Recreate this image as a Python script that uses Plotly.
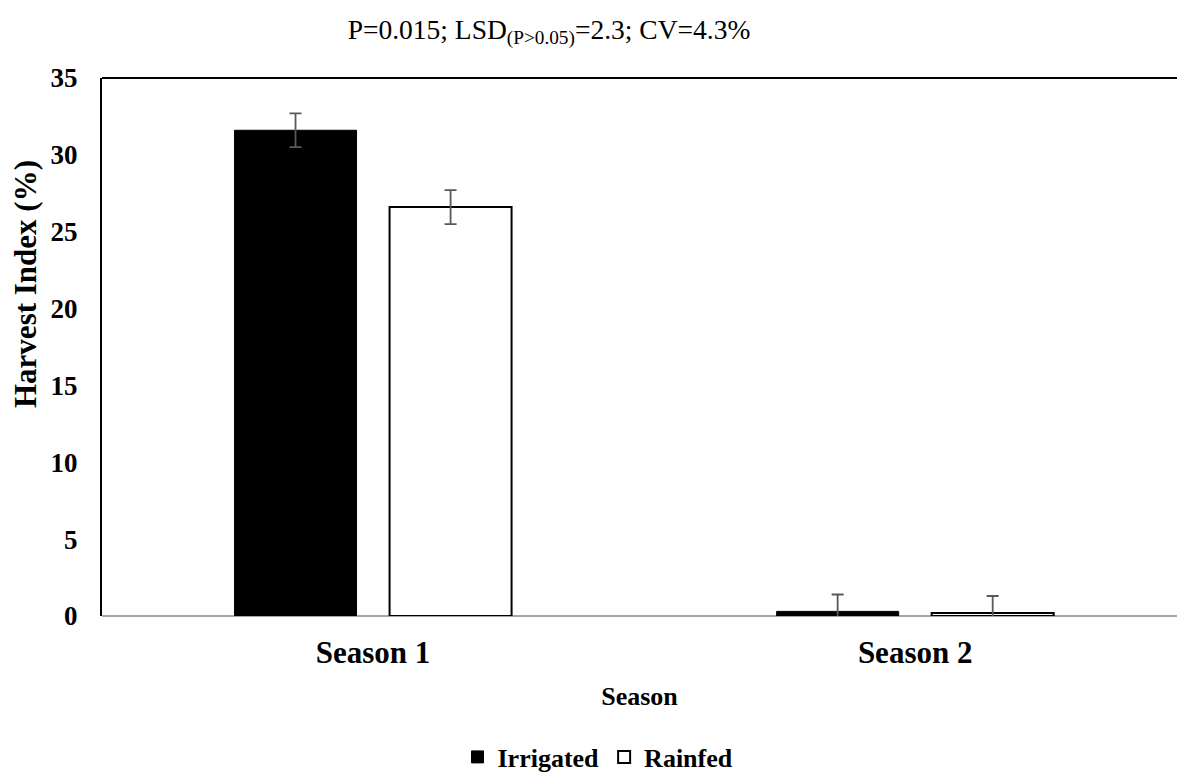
import plotly.graph_objects as go

# Harvest index by season and water regime
seasons = ["Season 1", "Season 2"]
irrigated = [31.6, 0.3]
rainfed = [26.6, 0.2]
irrigated_err = [1.1, 1.1]
rainfed_err = [1.1, 1.1]
y_ticks = [0, 5, 10, 15, 20, 25, 30, 35]

FONT = "Times New Roman, Liberation Serif, serif"
W, H = 1177, 781
L, T, B = 102, 78, 165
ERR = dict(type="data", visible=True, color="#595959", thickness=1.8, width=6)

fig = go.Figure()
fig.add_trace(go.Bar(
    name="Irrigated", x=seasons, y=irrigated,
    marker=dict(color="black", line=dict(color="black", width=1)),
    error_y=dict(array=irrigated_err, **ERR),
))
fig.add_trace(go.Bar(
    name="Rainfed", x=seasons, y=rainfed,
    marker=dict(color="white", line=dict(color="black", width=2)),
    error_y=dict(array=rainfed_err, **ERR),
))

fig.update_layout(
    width=W, height=H,
    margin=dict(l=L, r=0, t=T, b=B, autoexpand=False),
    paper_bgcolor="white", plot_bgcolor="white",
    barmode="group", bargap=0.428, bargroupgap=0.213,
    font=dict(family=FONT, color="black"),
    showlegend=True,
    legend=dict(
        orientation="h", xref="container", yref="container",
        x=598 / W, xanchor="center", y=1 - 757 / H, yanchor="middle",
        font=dict(size=26, family=FONT, weight="bold"),
        itemwidth=30, traceorder="normal",
    ),
    title=dict(
        text="P=0.015; LSD<sub>(P>0.05)</sub>=2.3; CV=4.3%",
        xref="container", yref="container",
        x=549 / W, xanchor="center", y=1 - 29 / H, yanchor="middle",
        font=dict(size=27.5, family=FONT),
    ),
)

fig.update_xaxes(
    type="category", range=[-0.5, 1.483],
    showline=False, showgrid=False, ticks="",
    tickfont=dict(size=31, family=FONT, weight="bold"),
    ticklabelstandoff=15,
    title=dict(text="Season", font=dict(size=26, family=FONT, weight="bold"), standoff=17),
)
fig.update_yaxes(
    range=[0, 35], tickvals=y_ticks,
    showline=True, linecolor="black", linewidth=2,
    showgrid=False, ticks="",
    zeroline=True, zerolinecolor="#a6a6a6", zerolinewidth=2,
    tickfont=dict(size=27, family=FONT, weight="bold"),
    ticklabelstandoff=17,
)

# plot-area top border
fig.add_shape(type="line", xref="paper", yref="paper", x0=0, x1=1, y0=1, y1=1,
              line=dict(color="black", width=2))

# vertical axis title
fig.add_annotation(
    text="Harvest Index (%)", textangle=-90, showarrow=False,
    xref="paper", yref="paper",
    x=-77 / (W - L), xanchor="center",
    y=(H - B - 284) / (H - B - T), yanchor="middle",
    font=dict(size=31, family=FONT, weight="bold"),
)

fig.write_html("out.html")
